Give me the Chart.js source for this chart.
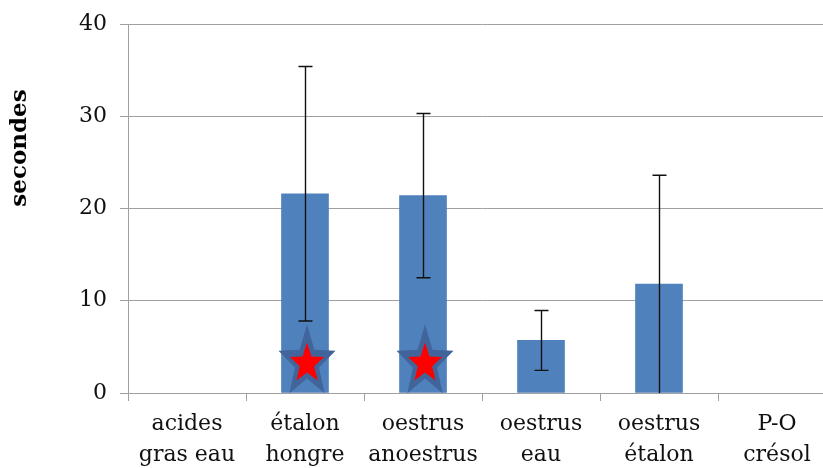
<!DOCTYPE html>
<html>
<head>
<meta charset="utf-8">
<script src="https://cdn.jsdelivr.net/npm/chart.js@4"></script>
<style>
  html, body { margin: 0; padding: 0; background: #fff; overflow: hidden; }
  .wrap { position: relative; width: 840px; height: 468px; }
</style>
</head>
<body>
<div class="wrap"><canvas id="chart" width="840" height="468"></canvas></div>
<script>
// chart values
const categories = [['acides', 'gras eau'], ['étalon', 'hongre'], ['oestrus', 'anoestrus'], ['oestrus', 'eau'], ['oestrus', 'étalon'], ['P-O', 'crésol']];
const meanValues = [0, 21.6, 21.4, 5.7, 11.8, 0];
const errorValues = [0, 13.8, 8.9, 3.25, 11.8, 0];
const starValues = [null, 3.3, 3.3, null, null, null];
const yTicks = [0, 10, 20, 30, 40];

const serif = '"DejaVu Serif", "Liberation Serif", serif';

// draws error bars from errorValues
const errorBarPlugin = {
    id: 'errorBars',
    afterDatasetsDraw(chart) {
        const ctx = chart.ctx;
        const x = chart.scales.x, y = chart.scales.y;
        ctx.save();
        ctx.strokeStyle = '#111';
        ctx.lineWidth = 1.4;
        meanValues.forEach(function(v, i) {
            const e = errorValues[i];
            if (!e) return;
            const px = Math.round(x.getPixelForValue(i)) + 0.5;
            const top = y.getPixelForValue(v + e);
            const bot = y.getPixelForValue(Math.max(0, v - e));
            ctx.beginPath();
            ctx.moveTo(px, top); ctx.lineTo(px, bot);
            ctx.moveTo(px - 7, top); ctx.lineTo(px + 7, top);
            if (v - e > 0) { ctx.moveTo(px - 7, bot); ctx.lineTo(px + 7, bot); }
            ctx.stroke();
        });
        ctx.restore();
    }
};

function starPath(ctx, cx, cy, rx, ry) {
    ctx.beginPath();
    for (let k = 0; k < 10; k++) {
        const a = -Math.PI / 2 + k * Math.PI / 5;
        const r = k % 2 === 0 ? 1 : 0.42;
        const px = cx + Math.cos(a) * rx * r;
        const py = cy + Math.sin(a) * ry * r;
        if (k === 0) ctx.moveTo(px, py); else ctx.lineTo(px, py);
    }
    ctx.closePath();
}

// significance stars
const starPlugin = {
    id: 'stars',
    afterDatasetsDraw(chart) {
        const ctx = chart.ctx;
        const x = chart.scales.x, y = chart.scales.y;
        ctx.save();
        starValues.forEach(function(v, i) {
            if (v === null) return;
            const cx = x.getPixelForValue(i) + 2;
            const cy = y.getPixelForValue(v);
            starPath(ctx, cx, cy, 30, 38);
            ctx.fillStyle = '#41659b';
            ctx.fill();
            starPath(ctx, cx, cy + 1, 18, 21);
            ctx.fillStyle = '#ff0000';
            ctx.fill();
        });
        ctx.restore();
    }
};

// y axis title
const yTitlePlugin = {
    id: 'yTitle',
    afterDraw(chart) {
        const ctx = chart.ctx;
        ctx.save();
        ctx.translate(20, 148);
        ctx.rotate(-Math.PI / 2);
        ctx.font = 'bold 23px ' + serif;
        ctx.fillStyle = '#000';
        ctx.textAlign = 'center';
        ctx.textBaseline = 'middle';
        ctx.fillText('secondes', 0, 0);
        ctx.restore();
    }
};

const ctx = document.getElementById('chart').getContext('2d');
new Chart(ctx, {
    type: 'bar',
    data: {
        labels: categories,
        datasets: [{
            data: meanValues,
            backgroundColor: c => (c.raw ? '#4f81bd' : 'rgba(0,0,0,0)'),
            barThickness: 47
        }]
    },
    options: {
        responsive: false,
        animation: false,
        layout: { padding: { top: 24, right: 4, left: 0, bottom: 0 } },
        plugins: {
            legend: { display: false },
            tooltip: { enabled: false }
        },
        scales: {
            x: {
                grid: {
                    offset: true,
                    drawOnChartArea: false,
                    drawTicks: true,
                    tickLength: 8,
                    color: '#a0a0a0'
                },
                border: { color: '#a0a0a0' },
                ticks: {
                    color: '#111',
                    font: { family: serif, size: 22, lineHeight: 1.4 },
                    padding: 8,
                    maxRotation: 0
                },
                afterFit(scale) { scale.height = 75; }
            },
            y: {
                min: 0,
                max: 40,
                afterBuildTicks(scale) { scale.ticks = yTicks.map(v => ({ value: v })); },
                grid: { color: '#a0a0a0', tickLength: 8 },
                border: { color: '#a0a0a0' },
                ticks: {
                    color: '#111',
                    font: { family: serif, size: 22, lineHeight: 1 },
                    padding: 13
                },
                afterFit(scale) { scale.width = 128; }
            }
        }
    },
    plugins: [errorBarPlugin, starPlugin, yTitlePlugin]
});
</script>
</body>
</html>
